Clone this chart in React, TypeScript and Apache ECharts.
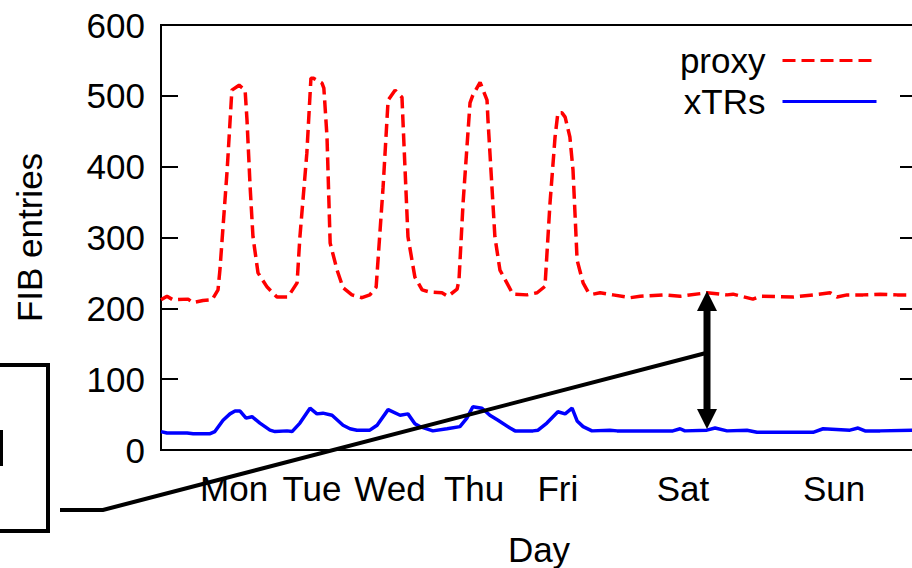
import React, { useEffect, useRef } from "react";
import * as echarts from "echarts";

// x unit: hours from the left edge of the plot
const xMin = 0;
const xMax = 240;
const yMin = 0;
const yMax = 600;
const yStep = 100;

const dayLabels = ["Mon", "Tue", "Wed", "Thu", "Fri", "Sat", "Sun"];
const dayTickHours = [23.2, 47.9, 72.7, 99.4, 126.0, 165.7, 213.7];

const seriesNames = ["proxy", "xTRs"];

const proxyPoints: [number, number][] = [
  [0, 212], [1.9, 217], [3.8, 212], [8.6, 213], [10.2, 208], [13.3, 211], [16.2, 212],
  [18.1, 226], [18.7, 254], [21.0, 395], [22.5, 508], [24.8, 515], [26.7, 508], [27.3, 466],
  [28.3, 371], [29.2, 301], [30.8, 250], [33.7, 230], [36.8, 216], [40.3, 216], [43.2, 236],
  [44.1, 301], [46.3, 419], [47.6, 525], [48.3, 525], [51.1, 518], [51.7, 511], [52.7, 442],
  [53.7, 292], [55.9, 254], [57.8, 229], [60.6, 219], [63.8, 215], [66.3, 219], [68.3, 230],
  [70.5, 371], [72.1, 494], [74.3, 508], [76.5, 498], [76.8, 466], [78.4, 301], [80.6, 244],
  [82.9, 226], [85.4, 223], [89.2, 222], [91.1, 217], [94.0, 227], [94.6, 240], [95.9, 349],
  [98.1, 490], [99.0, 501], [101.3, 519], [103.5, 494], [103.8, 466], [106.0, 301], [107.6, 254],
  [109.8, 236], [111.7, 220], [116.2, 219], [119.4, 222], [121.9, 231], [123.5, 349], [125.1, 442],
  [126.0, 476], [127.3, 476], [128.3, 470], [129.8, 442], [130.8, 395], [132.1, 268], [134.0, 236],
  [135.6, 223], [137.1, 220], [139.4, 222], [143.5, 219], [148.9, 215], [152.1, 217], [159.4, 219],
  [164.8, 217], [173.3, 222], [179.7, 219], [181.6, 220], [187.9, 213], [190.2, 217], [200.6, 216],
  [207.0, 219], [212.4, 222], [214.6, 216], [217.8, 219], [222.9, 219], [228.3, 220], [233.7, 219],
  [238.4, 219], [240, 219],
];

const xtrsPoints: [number, number][] = [
  [0, 26], [1.9, 24], [8.3, 24], [10.2, 23], [15.6, 23], [17.1, 26], [19.7, 42], [21.9, 51],
  [23.5, 55], [25.1, 55], [27.0, 45], [28.9, 47], [31.4, 38], [34.6, 28], [36.2, 26], [40.0, 27],
  [41.6, 26], [44.1, 38], [47.3, 59], [49.5, 51], [51.4, 52], [54.3, 49], [57.8, 35], [60.0, 30],
  [62.2, 28], [66.3, 28], [68.6, 35], [72.1, 57], [75.9, 49], [78.4, 51], [80.6, 37], [82.2, 33],
  [86.3, 27], [90.8, 30], [94.9, 33], [97.1, 45], [99.0, 61], [101.9, 59], [104.4, 49], [107.0, 42],
  [110.8, 31], [112.4, 27], [118.1, 27], [119.7, 28], [122.5, 38], [126.0, 54], [128.3, 51],
  [130.5, 59], [132.1, 41], [134.0, 33], [136.8, 27], [142.5, 28], [144.8, 27], [152.1, 27],
  [162.5, 27], [164.8, 30], [166.3, 27], [173.3, 28], [175.9, 31], [179.7, 27], [186.0, 28],
  [189.2, 25], [207.0, 25], [210.2, 30], [218.7, 28], [221.3, 31], [223.5, 27], [228.3, 27],
  [238.4, 28], [240, 28],
];

const FONT = "Liberation Sans, Arial, Helvetica, sans-serif";
const FS = 35;

export default function App() {
  const ref = useRef<HTMLDivElement>(null);
  useEffect(() => {
    const chart = echarts.init(ref.current!, null, { renderer: "svg" });
    chart.setOption({
      animation: false,
      backgroundColor: "#ffffff",
      textStyle: { fontFamily: FONT, color: "#000" },
      grid: {
        left: 161,
        right: -5,
        top: 25,
        bottom: 118,
        containLabel: false,
        outerBoundsMode: "none",
        show: true,
        borderColor: "#000",
        borderWidth: 2,
        backgroundColor: "transparent",
      },
      legend: {
        orient: "vertical",
        align: "right",
        right: 29,
        top: 38,
        itemWidth: 94,
        itemHeight: 34,
        itemGap: 6,
        itemStyle: { opacity: 0 },
        lineStyle: { width: 3 },
        textStyle: { fontSize: FS, fontFamily: FONT, color: "#000", padding: [0, 12, 0, 0] },
        data: seriesNames,
      },
      xAxis: {
        type: "value",
        min: xMin,
        max: xMax,
        name: "Day",
        nameLocation: "middle",
        nameGap: 82,
        nameTextStyle: { fontSize: FS, fontFamily: FONT, color: "#000" },
        axisLine: { show: true, lineStyle: { color: "#000", width: 2 } },
        axisTick: { show: false },
        splitLine: { show: false },
        axisLabel: {
          customValues: dayTickHours,
          fontSize: FS,
          fontFamily: FONT,
          color: "#000",
          margin: 21,
          formatter: (v: number) => {
            const i = dayTickHours.indexOf(v);
            return i >= 0 ? dayLabels[i] : "";
          },
        },
      },
      yAxis: [
        {
          type: "value",
          min: yMin,
          max: yMax,
          interval: yStep,
          position: "left",
          name: "FIB entries",
          nameLocation: "middle",
          nameGap: 114,
          nameTextStyle: { fontSize: FS, fontFamily: FONT, color: "#000" },
          axisLine: { show: true, lineStyle: { color: "#000", width: 2 } },
          axisTick: { show: true, inside: true, length: 17, lineStyle: { color: "#000", width: 2 } },
          splitLine: { show: false },
          axisLabel: { fontSize: FS, fontFamily: FONT, color: "#000", margin: 16 },
        },
        {
          type: "value",
          min: yMin,
          max: yMax,
          interval: yStep,
          position: "right",
          axisLine: { show: true, lineStyle: { color: "#000", width: 2 } },
          axisTick: { show: true, inside: true, length: 17, lineStyle: { color: "#000", width: 2 } },
          splitLine: { show: false },
          axisLabel: { show: false },
        },
      ],
      series: [
        {
          name: seriesNames[0],
          type: "line",
          data: proxyPoints,
          symbol: "none",
          showSymbol: false,
          lineStyle: { color: "#ff0000", width: 3.5, type: [13, 6] },
          itemStyle: { color: "#ff0000" },
          z: 3,
        },
        {
          name: seriesNames[1],
          type: "line",
          data: xtrsPoints,
          symbol: "none",
          showSymbol: false,
          lineStyle: { color: "#0000ff", width: 3.5, type: "solid" },
          itemStyle: { color: "#0000ff" },
          z: 3,
        },
      ],
      graphic: [
        {
          type: "rect",
          z: 100,
          shape: { x: -20, y: 365, width: 68, height: 166 },
          style: { fill: "none", stroke: "#000", lineWidth: 4 },
        },
        {
          type: "rect",
          z: 100,
          shape: { x: 0, y: 430, width: 3, height: 36 },
          style: { fill: "#000" },
        },
        {
          type: "polyline",
          z: 100,
          shape: { points: [[60, 510], [103, 510], [706, 353]] },
          style: { stroke: "#000", lineWidth: 4, fill: "none" },
        },
        {
          type: "line",
          z: 100,
          shape: { x1: 707, y1: 306, x2: 707, y2: 412 },
          style: { stroke: "#000", lineWidth: 7 },
        },
        {
          type: "polygon",
          z: 100,
          shape: { points: [[707, 291], [697, 311], [717, 311]] },
          style: { fill: "#000" },
        },
        {
          type: "polygon",
          z: 100,
          shape: { points: [[707, 429], [697, 409], [717, 409]] },
          style: { fill: "#000" },
        },
      ],
    });
    return () => chart.dispose();
  }, []);
  return (
    <div
      ref={ref}
      style={{ position: "absolute", left: 0, top: 0, width: 912, height: 568, background: "#fff" }}
    />
  );
}
